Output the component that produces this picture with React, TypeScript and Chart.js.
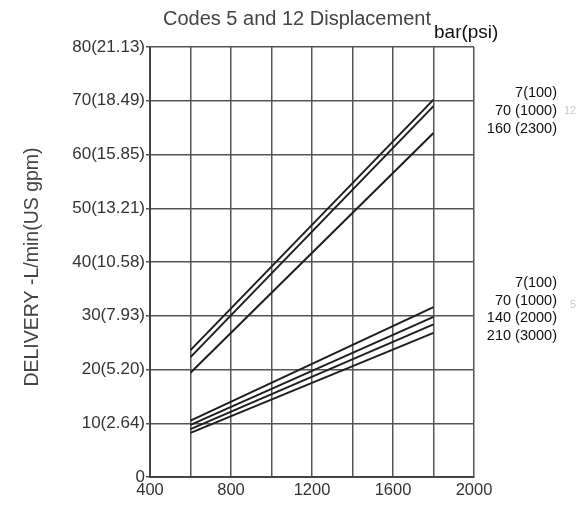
import React, { useEffect, useRef } from "react";
import { Chart, registerables } from "chart.js";

Chart.register(...registerables);

const speeds = [600, 1800];
const code12_7bar = [23.6, 70.2];
const code12_70bar = [22.3, 69.0];
const code12_160bar = [19.4, 64.0];
const code5_7bar = [10.5, 31.6];
const code5_70bar = [9.7, 29.8];
const code5_140bar = [8.9, 28.4];
const code5_210bar = [8.2, 26.8];

const yTickLabels = ["0", "10(2.64)", "20(5.20)", "30(7.93)", "40(10.58)", "50(13.21)", "60(15.85)", "70(18.49)", "80(21.13)"];
const xTickLabels = ["400", "800", "1200", "1600", "2000"];
const code12Labels = ["7(100)", "70 (1000)", "160 (2300)"];
const code5Labels = ["7(100)", "70 (1000)", "140 (2000)", "210 (3000)"];
const titleText = "Codes 5 and 12 Displacement";
const unitText = "bar(psi)";
const yTitle = "DELIVERY -L/min(US gpm)";

const seriesList = [code12_7bar, code12_70bar, code12_160bar, code5_7bar, code5_70bar, code5_140bar, code5_210bar];
const seriesNames = ["12: 7(100)", "12: 70(1000)", "12: 160(2300)", "5: 7(100)", "5: 70(1000)", "5: 140(2000)", "5: 210(3000)"];

const FONT = "'Liberation Sans', Arial, sans-serif";

const textPlugin = {
  id: "texts",
  afterDraw(chart: any) {
    const ctx = chart.ctx;
    ctx.save();
    ctx.textBaseline = "middle";
    ctx.fillStyle = "#444";
    ctx.font = `20px ${FONT}`;
    ctx.textAlign = "left";
    ctx.fillText(titleText, 163, 19);
    ctx.fillStyle = "#111";
    ctx.font = `19px ${FONT}`;
    ctx.fillText(unitText, 434, 33);
    ctx.font = `14.5px ${FONT}`;
    ctx.textAlign = "right";
    const y12 = [93, 111, 129];
    code12Labels.forEach((t, i) => ctx.fillText(t, 557, y12[i]));
    const y5 = [283, 301, 318, 336];
    code5Labels.forEach((t, i) => ctx.fillText(t, 557, y5[i]));
    ctx.fillStyle = "#c8c8c8";
    ctx.font = `11px ${FONT}`;
    ctx.textAlign = "left";
    ctx.fillText("12", 564, 111);
    ctx.fillText("5", 570, 305);
    // y axis title
    ctx.save();
    ctx.translate(33, 267);
    ctx.rotate(-Math.PI / 2);
    ctx.textAlign = "center";
    ctx.fillStyle = "#444";
    ctx.font = `19.5px ${FONT}`;
    ctx.fillText(yTitle, 0, 0);
    ctx.restore();
    ctx.restore();
  },
};

export default function App() {
  const ref = useRef<HTMLCanvasElement | null>(null);
  useEffect(() => {
    if (!ref.current) return;
    const chart = new Chart(ref.current, {
      type: "line",
      data: {
        datasets: seriesList.map((s, i) => ({
          label: seriesNames[i],
          data: s.map((v, j) => ({ x: speeds[j], y: v })),
          borderColor: "#1e1e1e",
          borderWidth: 2,
          pointRadius: 0,
          fill: false,
        })),
      },
      options: {
        animation: false,
        responsive: false,
        devicePixelRatio: 1,
        layout: { padding: { left: 23, top: 47, right: 105, bottom: 0 } },
        plugins: { legend: { display: false }, tooltip: { enabled: false }, title: { display: false } },
        scales: {
          x: {
            type: "linear",
            min: 400,
            max: 2000,
            afterFit: (s: any) => { s.height = 28; },
            ticks: {
              stepSize: 200,
              autoSkip: false,
              maxRotation: 0,
              padding: 4,
              color: "#333",
              font: { size: 16.5, family: FONT },
              callback: (v: any) => {
                const idx = xTickLabels.indexOf(String(v));
                return idx >= 0 ? xTickLabels[idx] : "";
              },
            },
            grid: { color: "#555", lineWidth: 1.5, drawTicks: false },
            border: { color: "#444", width: 2 },
          },
          y: {
            min: 0,
            max: 80,
            afterFit: (s: any) => { s.width = 127; },
            ticks: {
              stepSize: 10,
              padding: 1,
              color: "#333",
              font: { size: 17, family: FONT },
              callback: (v: any) => yTickLabels[Math.round(Number(v) / 10)] ?? "",
            },
            grid: { color: "#555", lineWidth: 1.5, tickLength: 4 },
            border: { color: "#444", width: 2 },
          },
        },
      },
      plugins: [textPlugin],
    });
    return () => chart.destroy();
  }, []);
  return (
    <div style={{ position: "fixed", left: 0, top: 0, width: 579, height: 505, background: "#fff" }}>
      <canvas ref={ref} width={579} height={505} style={{ width: 579, height: 505 }} />
    </div>
  );
}
